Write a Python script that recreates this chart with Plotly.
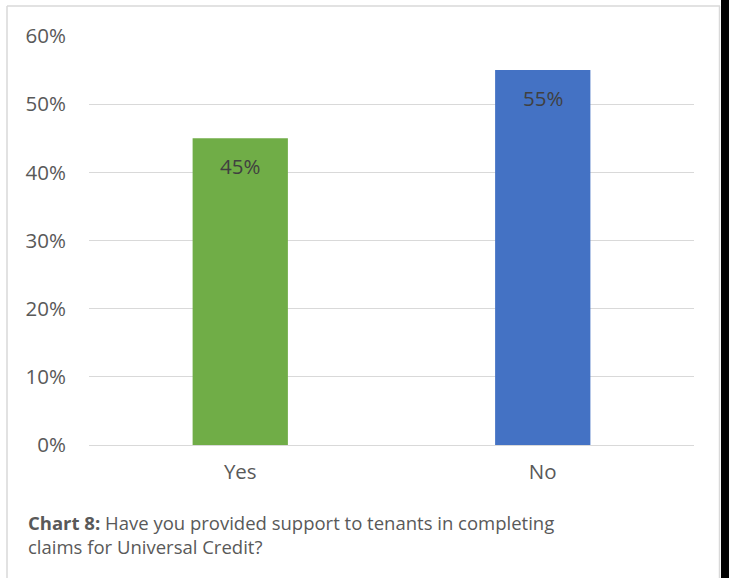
import plotly.graph_objects as go

categories = ["Yes", "No"]
values = [0.45, 0.55]
colors = ["#70AD47", "#4472C4"]
value_labels = ["45%", "55%"]
caption_bold = "Chart 8:"
caption_rest = " Have you provided support to tenants in completing<br>claims for Universal Credit?"

W, H = 729, 578
L, R, T, B = 89, 35, 36, 133
pw = W - L - R
ph = H - T - B

def px_x(p):
    return (p - L) / pw

def px_y(p):
    return (H - B - p) / ph

FONT = "Open Sans, sans-serif"

fig = go.Figure()
fig.add_trace(go.Bar(
    x=categories, y=values, marker=dict(color=colors, line=dict(width=0)),
    width=0.315, hoverinfo="skip"
))

for c, v, t in zip(categories, values, value_labels):
    fig.add_annotation(x=c, y=v, text=t, showarrow=False, yshift=-28,
                       font=dict(size=20.5, color="#404040", family=FONT))

fig.add_annotation(xref="paper", yref="paper", x=px_x(26), y=px_y(508),
                   xanchor="left", yanchor="top", align="left",
                   text=f"<b>{caption_bold}</b>{caption_rest}", showarrow=False,
                   font=dict(size=18.5, color="#595959", family=FONT))

# border lines
border = dict(color="#d9d9d9", width=1.5)
fig.add_shape(type="line", xref="paper", yref="paper", x0=px_x(7), x1=px_x(7), y0=px_y(6), y1=px_y(578), line=border)
fig.add_shape(type="line", xref="paper", yref="paper", x0=px_x(7), x1=px_x(720), y0=px_y(6), y1=px_y(6), line=border)
fig.add_shape(type="line", xref="paper", yref="paper", x0=px_x(719.5), x1=px_x(719.5), y0=px_y(6), y1=px_y(578), line=border)
fig.add_shape(type="rect", xref="paper", yref="paper", x0=px_x(721), x1=px_x(729), y0=px_y(0), y1=px_y(578),
              line=dict(width=0), fillcolor="#000000")

fig.update_layout(
    width=W, height=H, margin=dict(l=L, r=R, t=T, b=B),
    paper_bgcolor="white", plot_bgcolor="white", showlegend=False,
    font=dict(family=FONT, color="#595959", size=20.5),
    xaxis=dict(showgrid=False, showline=False, zeroline=False, ticks="",
               ticklabelstandoff=12, tickfont=dict(size=20.5, color="#595959")),
    yaxis=dict(range=[0, 0.6], dtick=0.1, tickformat=".0%", showgrid=True,
               gridcolor="#d9d9d9", gridwidth=1, zeroline=True, zerolinecolor="#d9d9d9",
               zerolinewidth=1, showline=False, ticks="", ticklabelstandoff=22,
               tickfont=dict(size=20.5, color="#595959")),
)

fig.write_html("out.html")
